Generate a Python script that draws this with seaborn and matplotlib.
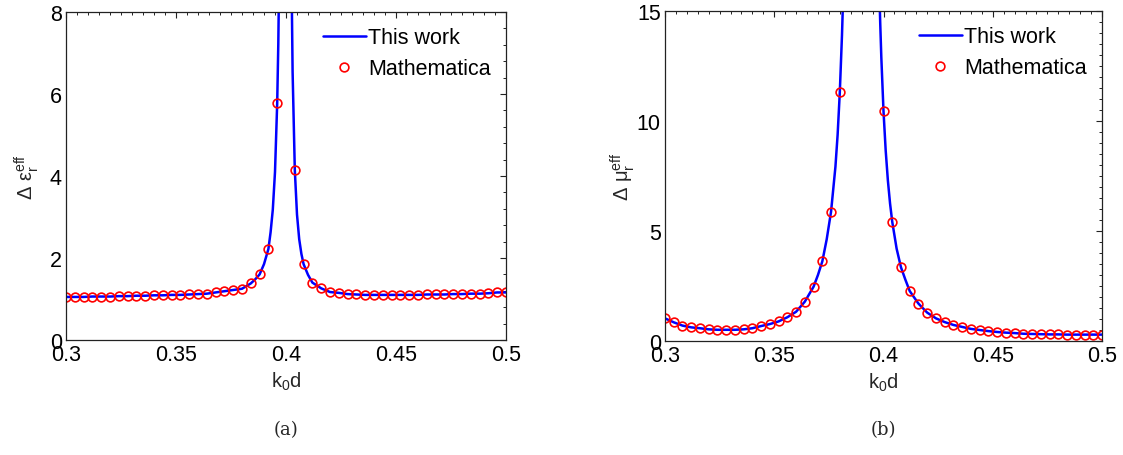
import numpy as np
import pandas as pd
import matplotlib
matplotlib.use("Agg")
import matplotlib.pyplot as plt
from matplotlib.ticker import MultipleLocator, FixedLocator, FixedFormatter
import seaborn as sns

# ---------------- data ----------------
# (a) Mathematica markers
eps_x = [0.300, 0.304, 0.308, 0.312, 0.316, 0.320, 0.324, 0.328, 0.332, 0.336,
         0.340, 0.344, 0.348, 0.352, 0.356, 0.360, 0.364, 0.368, 0.372, 0.376,
         0.380, 0.384, 0.388, 0.392, 0.396, 0.404, 0.408, 0.412, 0.416, 0.420,
         0.424, 0.428, 0.432, 0.436, 0.440, 0.444, 0.448, 0.452, 0.456, 0.460,
         0.464, 0.468, 0.472, 0.476, 0.480, 0.484, 0.488, 0.492, 0.496, 0.500]
eps_y = [1.05, 1.05, 1.05, 1.06, 1.06, 1.06, 1.07, 1.07, 1.08, 1.08,
         1.09, 1.09, 1.10, 1.10, 1.11, 1.12, 1.13, 1.16, 1.19, 1.22,
         1.25, 1.38, 1.60, 2.22, 5.78, 4.15, 1.85, 1.40, 1.26, 1.17,
         1.15, 1.12, 1.11, 1.10, 1.10, 1.10, 1.10, 1.10, 1.10, 1.10,
         1.11, 1.11, 1.11, 1.12, 1.12, 1.13, 1.13, 1.14, 1.16, 1.16]
# (a) "This work" curve: extra readings near the resonance
eps_line_extra_x = [0.386, 0.390, 0.393, 0.394, 0.395, 0.3965, 0.397,
                    0.4025, 0.403, 0.405, 0.406, 0.407, 0.410]
eps_line_extra_y = [1.48, 1.85, 2.63, 3.18, 4.10, 7.22, 9.40,
                    8.94, 6.54, 3.06, 2.46, 2.10, 1.59]

# (b) Mathematica markers
mu_x = [0.300, 0.304, 0.308, 0.312, 0.316, 0.320, 0.324, 0.328, 0.332, 0.336,
        0.340, 0.344, 0.348, 0.352, 0.356, 0.360, 0.364, 0.368, 0.372, 0.376,
        0.380, 0.400, 0.404, 0.408, 0.412, 0.416, 0.420, 0.424, 0.428, 0.432,
        0.436, 0.440, 0.444, 0.448, 0.452, 0.456, 0.460, 0.464, 0.468, 0.472,
        0.476, 0.480, 0.484, 0.488, 0.492, 0.496, 0.500]
mu_y = [1.03, 0.85, 0.70, 0.62, 0.58, 0.53, 0.51, 0.51, 0.51, 0.53,
        0.58, 0.68, 0.77, 0.89, 1.08, 1.33, 1.79, 2.47, 3.62, 5.88,
        11.30, 10.45, 5.42, 3.35, 2.27, 1.70, 1.29, 1.03, 0.86, 0.73,
        0.64, 0.55, 0.50, 0.45, 0.41, 0.38, 0.36, 0.33, 0.32, 0.31,
        0.30, 0.30, 0.29, 0.29, 0.29, 0.29, 0.29]
# (b) "This work" curve: extra readings near the resonance
mu_line_extra_x = [0.370, 0.374, 0.378, 0.379, 0.381, 0.382,
                   0.398, 0.3985, 0.399, 0.401, 0.402, 0.403, 0.406, 0.410]
mu_line_extra_y = [3.00, 4.62, 7.92, 9.37, 13.90, 17.20,
                   16.30, 14.45, 12.90, 8.66, 7.30, 6.25, 4.20, 2.79]

xtick_vals = [0.3, 0.35, 0.4, 0.45, 0.5]
xtick_labels = ["0.3", "0.35", "0.4", "0.45", "0.5"]
eps_ytick_vals = [0, 2, 4, 6, 8]
eps_ytick_labels = ["0", "2", "4", "6", "8"]
mu_ytick_vals = [0, 5, 10, 15]
mu_ytick_labels = ["0", "5", "10", "15"]

# ---------------- style ----------------
sns.set_theme(style="white")
plt.rcParams.update({
    "font.family": ["Liberation Sans", "DejaVu Sans"],
    "mathtext.fontset": "custom",
    "mathtext.rm": "Liberation Sans",
    "mathtext.it": "Liberation Sans",
    "mathtext.bf": "Liberation Sans",
    "xtick.direction": "in",
    "ytick.direction": "in",
    "xtick.top": True,
    "ytick.right": True,
    "axes.edgecolor": "#222222",
    "axes.linewidth": 0.9,
})

fig = plt.figure(figsize=(11.23, 4.56), dpi=100)
ax1 = fig.add_axes([66 / 1123, 115 / 456, 440 / 1123, 328 / 456])
ax2 = fig.add_axes([665 / 1123, 114 / 456, 437 / 1123, 330 / 456])

BLUE = "#0000ff"
RED = "#ff0000"


def build_line(mx, my, ex, ey):
    df = pd.DataFrame({"x": list(mx) + list(ex), "y": list(my) + list(ey)})
    return df.sort_values("x").reset_index(drop=True)


def draw(ax, mx, my, ex, ey, ylim, yvals, ylabels, yminor, ylabel, label_x):
    line_df = build_line(mx, my, ex, ey)
    sns.lineplot(data=line_df, x="x", y="y", ax=ax, color=BLUE, lw=1.8,
                 sort=False, estimator=None, label="This work")
    pts = pd.DataFrame({"x": mx, "y": my})
    sns.lineplot(data=pts, x="x", y="y", ax=ax, linestyle="none", marker="o",
                 markersize=6.3, markerfacecolor="none", markeredgecolor=RED,
                 markeredgewidth=1.2, color=RED, sort=False, estimator=None,
                 label="Mathematica")
    ax.set_xlim(0.3, 0.5)
    ax.set_ylim(*ylim)
    ax.xaxis.set_major_locator(FixedLocator(xtick_vals))
    ax.xaxis.set_major_formatter(FixedFormatter(xtick_labels))
    ax.yaxis.set_major_locator(FixedLocator(yvals))
    ax.yaxis.set_major_formatter(FixedFormatter(ylabels))
    ax.xaxis.set_minor_locator(MultipleLocator(0.005))
    ax.yaxis.set_minor_locator(MultipleLocator(yminor))
    ax.tick_params(which="major", length=4.5, width=0.8, labelsize=15.5,
                   pad=3, colors="#222222", labelcolor="black",
                   top=True, right=True)
    ax.tick_params(which="minor", length=2.5, width=0.7, colors="#222222",
                   top=True, right=True)
    ax.set_xlabel(r"$\mathrm{k_0d}$", fontsize=14.5, labelpad=3)
    ax.set_ylabel(ylabel, fontsize=14.5)
    ax.yaxis.set_label_coords(label_x, 0.5)
    for s in ax.spines.values():
        s.set_visible(True)
    leg = ax.legend(loc="upper right", frameon=False, fontsize=15.5,
                    handlelength=2.0, handletextpad=0.1, labelspacing=0.45,
                    borderpad=0.42, borderaxespad=0.3)
    for t in leg.get_texts():
        t.set_color("black")


draw(ax1, eps_x, eps_y, eps_line_extra_x, eps_line_extra_y, (0, 8),
     eps_ytick_vals, eps_ytick_labels, 0.4,
     r"$\mathrm{\Delta\ ε_r^{eff}}$", -0.056)
draw(ax2, mu_x, mu_y, mu_line_extra_x, mu_line_extra_y, (0, 15),
     mu_ytick_vals, mu_ytick_labels, 0.5,
     r"$\mathrm{\Delta\ μ_r^{eff}}$", -0.064)

fig.text(286 / 1123, 1 - 430 / 456, "(a)", fontsize=13, family="DejaVu Serif",
         ha="center", va="center")
fig.text(883 / 1123, 1 - 430 / 456, "(b)", fontsize=13, family="DejaVu Serif",
         ha="center", va="center")

fig.savefig("out.png", dpi=100)
